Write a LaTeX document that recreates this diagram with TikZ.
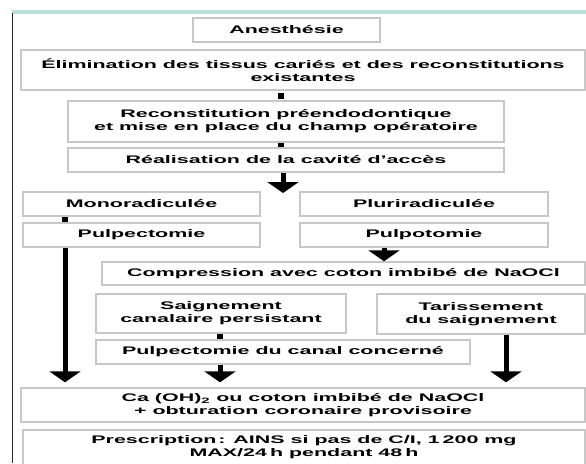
\documentclass[tikz,border=0pt]{standalone}
\usepackage{fontspec}
\setmainfont{Liberation Sans}[FakeStretch=1.95]
\usetikzlibrary{arrows.meta}
\definecolor{teal1}{RGB}{190,224,220}
\begin{document}
\begin{tikzpicture}[x=1pt,y=-1pt,
  box/.style={draw=black!22, line width=1.4pt, fill=white, inner sep=0pt, align=center,
    font=\fontsize{11}{13}\selectfont\bfseries},
  conn/.style={line width=6pt, black},
  arr/.style={line width=5pt, black, -{Triangle[width=31pt,length=11pt]}}]
\useasboundingbox (0,0) rectangle (586,463);
\clip (0,0) rectangle (586,463);
\fill[white] (0,0) rectangle (586,463);
% frame
\draw[line width=4pt, teal1] (12,12) -- (586,12);
\draw[line width=1pt, black!85] (12.5,13) -- (12.5,463);
% boxes
\node[box, minimum width=187pt, minimum height=24pt] (anes) at (286.5,30) {Anesthésie};
\node[box, minimum width=564pt, minimum height=40pt] (elim) at (303,70) {Élimination des tissus cariés et des reconstitutions\\existantes};
\node[box, minimum width=436pt, minimum height=41pt] (recon) at (286,121.5) {Reconstitution préendodontique\\et mise en place du champ opératoire};
\node[box, minimum width=436pt, minimum height=24pt] (real) at (286,160) {Réalisation de la cavité d'accès};
\node[box, minimum width=237pt, minimum height=24pt] (mono) at (141.5,204) {Monoradiculée};
\node[box, minimum width=248pt, minimum height=24pt] (pluri) at (424,204) {Pluriradiculée};
\node[box, minimum width=237pt, minimum height=24pt] (pulpec) at (141.5,235) {Pulpectomie};
\node[box, minimum width=248pt, minimum height=24pt] (pulpot) at (424,235) {Pulpotomie};
\node[box, minimum width=483pt, minimum height=23pt] (comp) at (343.5,273.5) {Compression avec coton imbibé de NaOCl};
\node[box, minimum width=250pt, minimum height=39pt] (saign) at (221,313.5) {Saignement\\canalaire persistant};
\node[box, minimum width=208pt, minimum height=40pt] (tar) at (481,314) {Tarissement\\du saignement};
\node[box, minimum width=374pt, minimum height=24pt] (canal) at (283,352) {Pulpectomie du canal concerné};
\node[box, minimum width=564pt, minimum height=34pt] (ca) at (303,405) {Ca (OH)\textsubscript{2} ou coton imbibé de NaOCl\\+ obturation coronaire provisoire};
\node[box, minimum width=562pt, minimum height=35pt] (presc) at (304,447.5) {Prescription\,: AINS si pas de C/I, 1\kern3pt200 mg\\MAX/24\kern3pt h pendant 48\kern3pt h};
% x positions
\coordinate (x281) at (281,0);
\coordinate (x283) at (283,0);
\coordinate (x65) at (65,0);
\coordinate (x220) at (220,0);
\coordinate (x384) at (384,0);
\coordinate (x506) at (506,0);
\coordinate (tip1) at (283,193);
% small connectors
\draw[conn, shorten <=2pt, shorten >=1.5pt] (elim.south -| x281) -- (recon.north -| x281);
\draw[conn] (recon.south -| x281) -- (real.north -| x281);
\draw[conn] (mono.south -| x65) -- (pulpec.north -| x65);
\draw[conn] (saign.south -| x220) -- (canal.north -| x220);
% arrows
\draw[arr] (real.south -| x283) -- (tip1);
\draw[arr, shorten >=5pt] (pulpec.south -| x65) -- (ca.north -| x65);
\draw[arr] (pulpot.south -| x384) -- (comp.north -| x384);
\draw[arr, shorten >=5pt] (canal.south -| x220) -- (ca.north -| x220);
\draw[arr, shorten >=5pt] (tar.south -| x506) -- (ca.north -| x506);
\end{tikzpicture}
\end{document}
